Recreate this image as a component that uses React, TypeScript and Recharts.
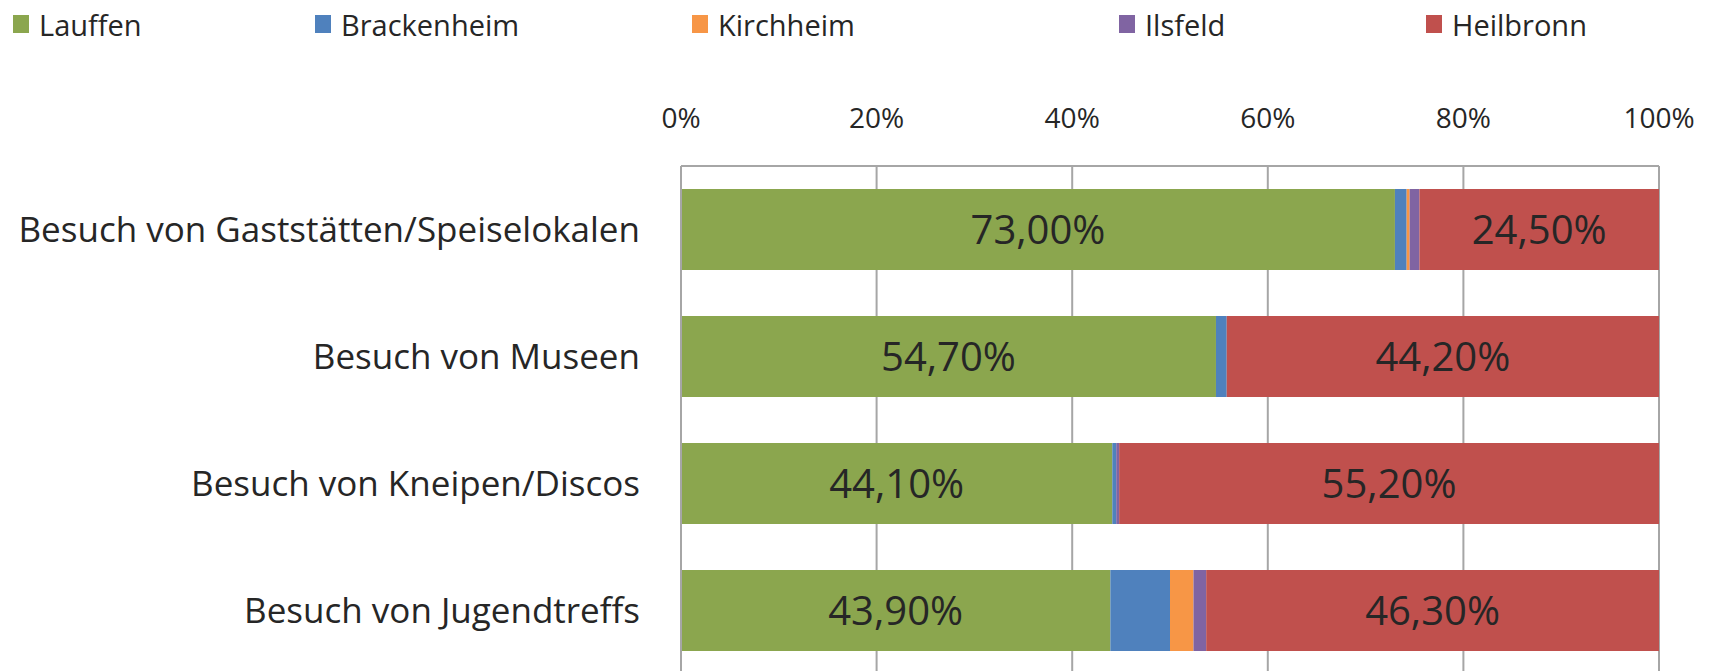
import React from 'react';
import {
  BarChart,
  Bar,
  XAxis,
  YAxis,
  CartesianGrid,
  Legend,
  LabelList,
} from 'recharts';

const categories = [
  'Besuch von Gaststätten/Speiselokalen',
  'Besuch von Museen',
  'Besuch von Kneipen/Discos',
  'Besuch von Jugendtreffs',
];
const seriesNames = ['Lauffen', 'Brackenheim', 'Kirchheim', 'Ilsfeld', 'Heilbronn'];
const lauffen = [73.0, 54.7, 44.1, 43.9];
const brackenheim = [1.2, 1.1, 0.4, 6.1];
const kirchheim = [0.3, 0, 0, 2.4];
const ilsfeld = [1.0, 0, 0.3, 1.3];
const heilbronn = [24.5, 44.2, 55.2, 46.3];
const xTicks = [0, 20, 40, 60, 80, 100];

const colors = ['#8ba64e', '#4f81bd', '#f79646', '#8064a2', '#c0504d'];
const legendWidths = [302, 377, 427, 307, 200];
const FONT = '"Open Sans", sans-serif';
const TEXT = '#262626';

const data = categories.map((name, i) => ({
  name,
  Lauffen: lauffen[i],
  Brackenheim: brackenheim[i],
  Kirchheim: kirchheim[i],
  Ilsfeld: ilsfeld[i],
  Heilbronn: heilbronn[i],
}));

const pct = (v: any) => `${Number(v).toFixed(2).replace('.', ',')}%`;

const renderLegend = () => (
  <div style={{ display: 'flex', alignItems: 'center', height: 48, fontFamily: FONT, fontSize: 29, color: TEXT }}>
    {seriesNames.map((s, i) => (
      <div key={s} style={{ width: legendWidths[i], display: 'flex', alignItems: 'center', flexShrink: 0 }}>
        <span style={{ width: 16, height: 18, background: colors[i], marginRight: 10, display: 'inline-block' }} />
        <span>{s}</span>
      </div>
    ))}
  </div>
);

export default function App() {
  return (
    <div style={{ position: 'absolute', left: 0, top: 0, width: 1715, height: 671, background: '#fff' }}>
      <BarChart
        width={1715}
        height={671}
        data={data}
        layout="vertical"
        barSize={81}
        margin={{ top: 0, right: 56, left: 0, bottom: -3 }}
      >
        <Legend verticalAlign="top" align="left" content={renderLegend} wrapperStyle={{ left: 13, top: 0 }} />
        <CartesianGrid horizontal={false} stroke="#a6a6a6" strokeWidth={2} />
        <XAxis
          type="number"
          orientation="top"
          domain={[0, 100]}
          ticks={xTicks}
          tickFormatter={(v) => `${v}%`}
          tickLine={false}
          tickSize={0}
          tickMargin={38}
          height={118}
          axisLine={{ stroke: '#a6a6a6', strokeWidth: 2 }}
          tick={{ fontSize: 28, fill: TEXT, fontFamily: FONT }}
          interval={0}
        />
        <YAxis
          type="category"
          dataKey="name"
          width={681}
          tickLine={false}
          tickSize={0}
          tickMargin={41}
          axisLine={{ stroke: '#a6a6a6', strokeWidth: 2 }}
          tick={{ fontSize: 35, fill: TEXT, fontFamily: FONT }}
        />
        {seriesNames.map((s, i) => (
          <Bar key={s} dataKey={s} stackId="a" fill={colors[i]} isAnimationActive={false}>
            {(i === 0 || i === 4) && (
              <LabelList
                dataKey={s}
                position="center"
                formatter={pct}
                style={{ fontSize: 40, fill: TEXT, fontFamily: FONT }}
              />
            )}
          </Bar>
        ))}
      </BarChart>
    </div>
  );
}
